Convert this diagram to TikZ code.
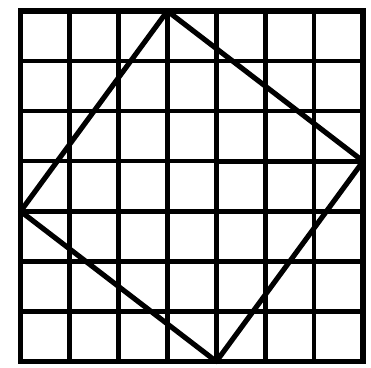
\documentclass[tikz,border=0pt]{standalone}
\usepackage{tikz}
\begin{document}
\begin{tikzpicture}[x=1cm,y=1.023cm,
		gridline/.style={line width=2.6pt},
		legline/.style={line width=3.1pt},
		sideline/.style={line width=3pt, line join=round}]
		\useasboundingbox (-0.42,-0.12) rectangle (7.16,7.22);
		\foreach \i in {1,...,6}{
			\draw [gridline] (\i,0) -- (\i,7);
			\draw [gridline] (0,\i) -- (7,\i);
		}
		\draw [line width=3.4pt] (0,0) rectangle (7,7);
		\coordinate (T) at (3,7);
		\coordinate (R) at (7,4);
		\coordinate (B) at (4,0);
		\coordinate (L) at (0,3);
		\draw [legline] (T) -- (3,3) -- (L);
		\draw [legline] (B) -- (4,4) -- (R);
		\draw [sideline] (T) -- (R) -- (B) -- (L) -- cycle;
	\end{tikzpicture}
\end{document}
